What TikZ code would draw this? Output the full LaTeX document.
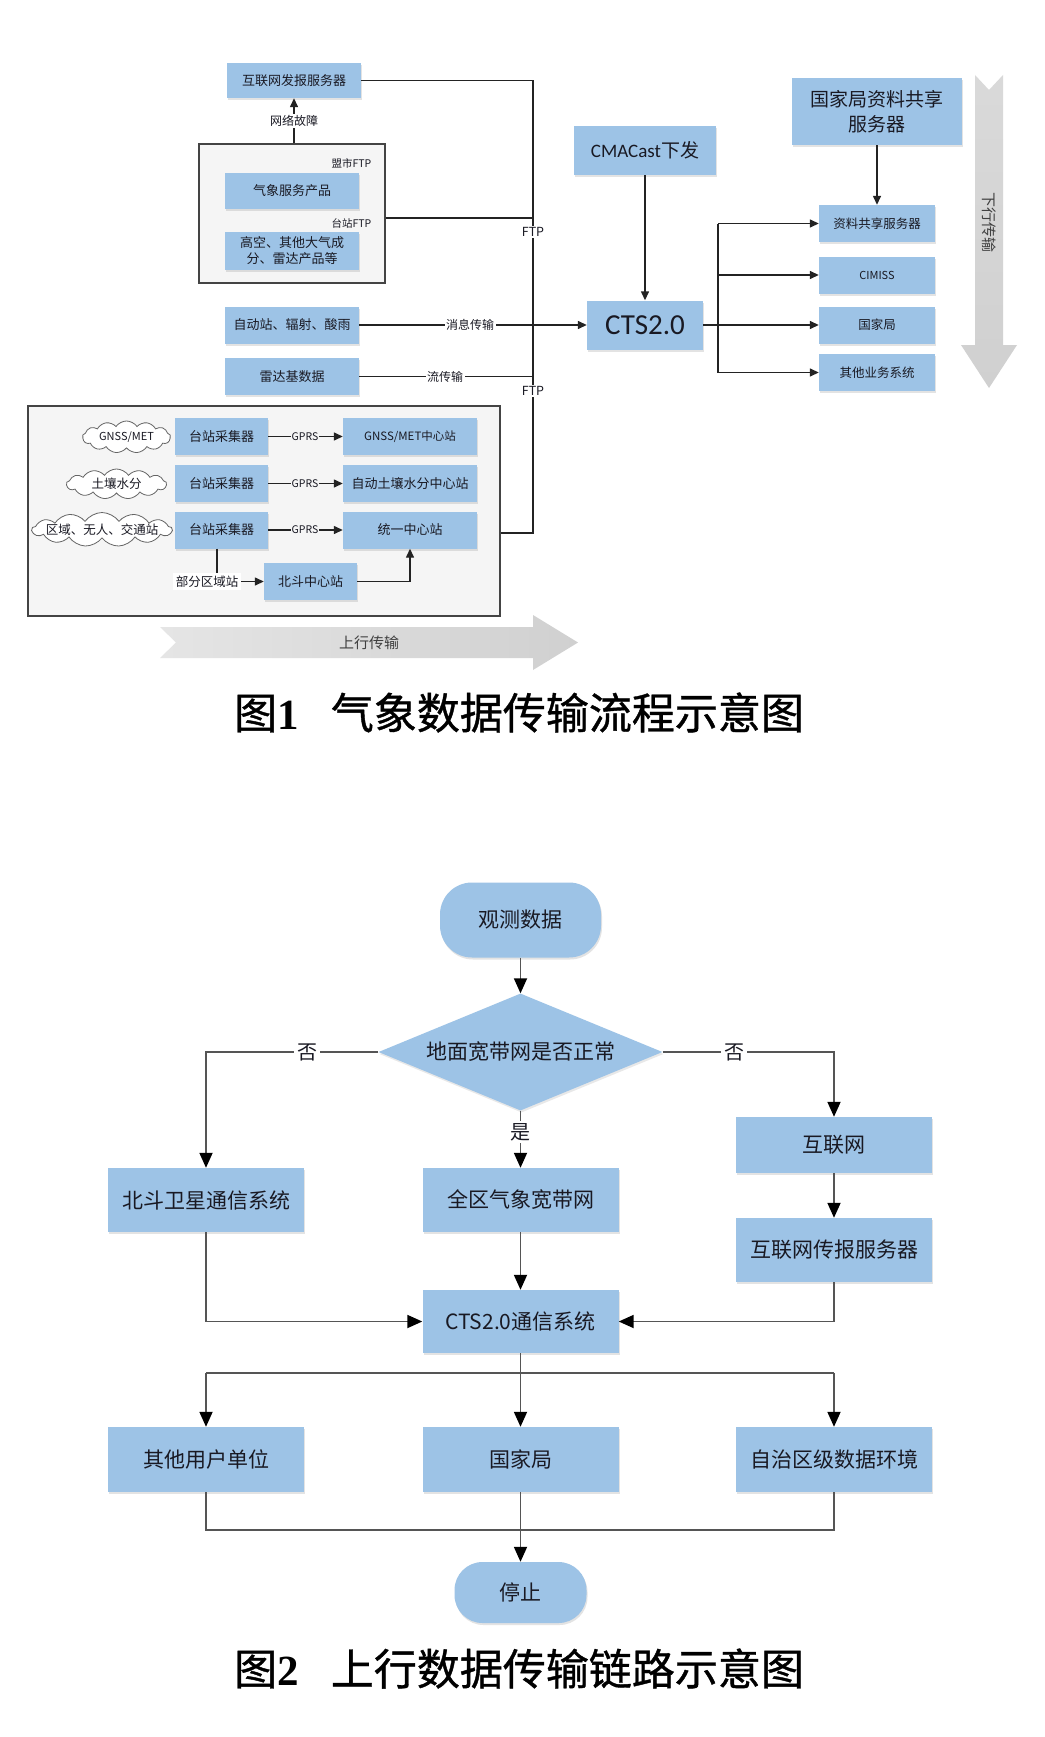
\documentclass[tikz,border=0pt]{standalone}
\usepackage{fontspec}
\setmainfont{Noto Sans CJK SC}
\newfontfamily\latinf{Carlito}
\newfontfamily\capnum{Liberation Serif}
\newfontfamily\capcjk{Noto Sans CJK SC}[FakeBold=0.9]
\usetikzlibrary{arrows.meta,shapes.geometric,shapes.symbols,shadows,calc}
\definecolor{boxblue}{RGB}{157,195,230}
\definecolor{grpfill}{RGB}{245,245,245}
\definecolor{lnc}{RGB}{35,35,35}
\definecolor{lntwo}{RGB}{85,85,85}
\definecolor{txt}{RGB}{25,25,35}
\definecolor{bigarrow}{RGB}{208,208,208}
\newcommand\fsz[2]{\fontsize{#1}{#2}\selectfont}
\begin{document}
\begin{tikzpicture}[x=1pt,y=-1pt,
  box/.style={fill=boxblue, text=txt, inner sep=1pt, align=center, font=\fsz{13}{16},
    drop shadow={opacity=0.22, shadow xshift=1pt, shadow yshift=-2pt}},
  grp/.style={draw=lnc!85, fill=grpfill, line width=1.3pt, inner sep=0},
  lab/.style={text=txt, inner sep=1.5pt, font=\fsz{12}{14}},
  ln/.style={draw=lnc, line width=1.4pt},
  arr/.style={ln, -{Triangle[length=9pt,width=8pt]}},
  ln2/.style={draw=lntwo, line width=1.8pt},
  arr2/.style={ln2, -{Triangle[length=15pt,width=13pt,color=black]}},
  cloudn/.style={cloud, cloud puffs=13, cloud puff arc=110, cloud ignores aspect, draw=lnc!70, fill=white, line width=0.8pt, inner sep=0},
  term/.style={rectangle, rounded corners=32pt, fill=boxblue, text=txt, font=\fsz{21}{24},
    drop shadow={opacity=0.22, shadow xshift=1pt, shadow yshift=-2pt}},
  box2/.style={box, font=\fsz{21}{25}, minimum width=196},
  capt/.style={anchor=base, text=black, font=\capcjk\fsz{43}{48}}
]
\useasboundingbox (0,0) rectangle (1044,1737);
\fill[white] (0,0) rectangle (1044,1737);

% ================= Figure 1 =================
% big gray arrows
\shade[left color=bigarrow!55, right color=bigarrow]
  (160,627) -- (533,627) -- (533,615) -- (578,642.5) -- (533,670) -- (533,658) -- (160,658) -- (176,642.5) -- cycle;
\node[text=black!75, font=\fsz{15}{18}] (sxcs) at (369,643) {上行传输};
\shade[top color=bigarrow!80, bottom color=bigarrow]
  (975,75) -- (989,90) -- (1003,75) -- (1003,345) -- (1017,345) -- (989,388) -- (961,345) -- (975,345) -- cycle;
\node[text=black!75, font=\fsz{15}{18}, rotate=-90] (xxcs) at (989,222) {下行传输};

\node[box, minimum width=134, minimum height=35] (inet) at (294,80.5) {互联网发报服务器};
\node[grp, minimum width=186, minimum height=139] (grpA) at (292,213.5) {};
\node[box, minimum width=134, minimum height=36] (qxfw) at (292,191) {气象服务产品};
\node[box, minimum width=134, minimum height=38] (gkcp) at (292,251) {高空、其他大气成\\分、雷达产品等};
\node[lab, font=\fsz{10.5}{12}, anchor=east] (msftp) at (373,163) {盟市FTP};
\node[lab, font=\fsz{10.5}{12}, anchor=east] (tzftp) at (373,223) {台站FTP};
\node[box, minimum width=134, minimum height=37] (zdz) at (292,325) {自动站、辐射、酸雨};
\node[box, minimum width=134, minimum height=37] (ldj) at (292,376.5) {雷达基数据};
\node[box, minimum width=142, minimum height=49, font=\fsz{19}{22}] (cma) at (645,150.5) {{\latinf CMACast}下发};
\node[box, minimum width=116, minimum height=49, font=\latinf\fsz{29}{32}] (cts) at (645,325) {CTS2.0};
\node[box, minimum width=170, minimum height=67, font=\fsz{19}{25}] (gjzx) at (877,111.5) {国家局资料共享\\服务器};
\node[box, minimum width=116, minimum height=37, font=\fsz{12.5}{15}] (r1) at (877,223.5) {资料共享服务器};
\node[box, minimum width=116, minimum height=37, font=\fsz{11}{13}] (r2) at (877,275) {CIMISS};
\node[box, minimum width=116, minimum height=37, font=\fsz{12.5}{15}] (r3) at (877,325) {国家局};
\node[box, minimum width=116, minimum height=37, font=\fsz{12.5}{15}] (r4) at (877,372.5) {其他业务系统};

\node[grp, minimum width=472, minimum height=210] (grpB) at (264,511) {};
\node[cloudn, minimum width=88, minimum height=32] (c1) at (126.5,437) {};
\node[lab, font=\fsz{11}{13}] (c1t) at (c1.center) {GNSS/MET};
\node[cloudn, minimum width=100, minimum height=30] (c2) at (116.5,484) {};
\node[lab, font=\fsz{12.5}{15}] (c2t) at (c2.center) {土壤水分};
\node[cloudn, minimum width=140, minimum height=34] (c3) at (102,529.5) {};
\node[lab, font=\fsz{12.5}{15}] (c3t) at (c3.center) {区域、无人、交通站};
\node[box, minimum width=93, minimum height=37] (cj1) at (221.5,436.5) {台站采集器};
\node[box, minimum width=93, minimum height=37] (cj2) at (221.5,483.5) {台站采集器};
\node[box, minimum width=93, minimum height=37] (cj3) at (221.5,530) {台站采集器};
\node[box, minimum width=134, minimum height=37, font=\fsz{11.5}{14}] (zx1) at (410,436.5) {GNSS/MET中心站};
\node[box, minimum width=134, minimum height=37] (zx2) at (410,483.5) {自动土壤水分中心站};
\node[box, minimum width=134, minimum height=37] (zx3) at (410,530) {统一中心站};
\node[box, minimum width=93, minimum height=37] (bd) at (310.5,581.5) {北斗中心站};
\node[lab, fill=white, font=\fsz{12.5}{15}, inner sep=3pt] (bfq) at (207,581.5) {部分区域站};

% connectors fig 1
\coordinate (v0) at (533,80.5);
\coordinate (v1) at (533,218);
\coordinate (vb) at (533,533);
\draw[ln] (inet.east) -- (v0) -- (vb) -- (vb -| grpB.east);
\draw[ln] (grpA.east |- v1) -- (v1);
\draw[ln] (ldj.east) -- (ldj.east -| v0);
\draw[arr] (zdz.east) -- (cts.west);
\draw[arr] (grpA.north -| inet.south) -- (inet.south);
\node[lab, fill=white] (wlgz) at (294,121) {网络故障};
\node[lab, fill=white] (xxcsl) at (470,325) {消息传输};
\node[lab, fill=white] (lcs) at (445,376.5) {流传输};
\node[lab, fill=white, font=\fsz{12.5}{14}] (ftp1) at (533,232) {FTP};
\node[lab, fill=white, font=\fsz{12.5}{14}] (ftp2) at (533,391) {FTP};
\draw[arr] (cma.south) -- (cts.north);
\coordinate (tr) at (718,325);
\draw[ln] (cts.east) -- (tr);
\draw[ln] (tr |- r1.west) -- (tr |- r4.west);
\foreach \r in {r1,r2,r3,r4} { \draw[arr] (tr |- \r.west) -- (\r.west); }
\draw[arr] (gjzx.south) -- (r1.north);
\draw[arr] (cj1.east) -- (zx1.west);
\draw[arr] (cj2.east) -- (zx2.west);
\draw[arr] (cj3.east) -- (zx3.west);
\node[lab, fill=grpfill, font=\fsz{10.5}{12}, inner sep=1pt] (g1) at (305,436.5) {GPRS};
\node[lab, fill=grpfill, font=\fsz{10.5}{12}, inner sep=1pt] (g2) at (305,483.5) {GPRS};
\node[lab, fill=grpfill, font=\fsz{10.5}{12}, inner sep=1pt] (g3) at (305,530) {GPRS};
\coordinate (cjb) at (217,548.5);
\draw[ln] (cjb) -- (cjb |- bfq.north);
\draw[arr] (bfq.east) -- (bd.west);
\draw[arr] (bd.east) -| (zx3.south);

\node[capt] (cap1) at (519,729) {图{\capnum\bfseries 1}\hspace{0.75em}气象数据传输流程示意图};

% ================= Figure 2 =================
\node[term, minimum width=161, minimum height=75] (obs) at (520.5,920) {观测数据};
\node[diamond, fill=boxblue, text=txt, font=\fsz{21}{24}, minimum width=284, minimum height=117, inner sep=0, aspect=2.4,
  drop shadow={opacity=0.18, shadow xshift=1pt, shadow yshift=-2pt}] (dia) at (520.5,1052) {地面宽带网是否正常};
\node[box2, minimum height=64] (bd2) at (206,1200) {北斗卫星通信系统};
\node[box2, minimum height=64] (qq) at (520.5,1200) {全区气象宽带网};
\node[box2, minimum height=56] (hl) at (834,1145) {互联网};
\node[box2, minimum height=64] (hlfw) at (834,1250) {互联网传报服务器};
\node[box2, minimum height=63] (cts2) at (520.5,1321.5) {CTS2.0通信系统};
\node[box2, minimum height=65] (qt) at (206,1459.5) {其他用户单位};
\node[box2, minimum height=65] (gj) at (520.5,1459.5) {国家局};
\node[box2, minimum height=65] (zzq) at (834,1459.5) {自治区级数据环境};
\node[term, minimum width=132, minimum height=61, rounded corners=28pt] (tz) at (520.5,1592.5) {停止};

\draw[arr2] (obs.south) -- (dia.north);
\draw[arr2] (dia.west) -| (bd2.north);
\draw[arr2] (dia.east) -| (hl.north);
\draw[arr2] (dia.south) -- (qq.north);
\node[lab, fill=white, font=\fsz{20}{22}, inner sep=3pt] (no1) at (307,1052) {否};
\node[lab, fill=white, font=\fsz{20}{22}, inner sep=3pt] (no2) at (734,1052) {否};
\node[lab, fill=white, font=\fsz{20}{22}, inner sep=2pt] (yes) at (520.5,1132) {是};
\draw[arr2] (hl.south) -- (hlfw.north);
\draw[arr2] (qq.south) -- (cts2.north);
\draw[arr2] (bd2.south) |- (cts2.west);
\draw[arr2] (hlfw.south) |- (cts2.east);
\coordinate (bus) at (520.5,1373);
\draw[ln2] (bus -| qt.north) -- (bus -| zzq.north);
\draw[arr2] (bus -| qt.north) -- (qt.north);
\draw[arr2] (bus -| zzq.north) -- (zzq.north);
\draw[arr2] (cts2.south) -- (gj.north);
\coordinate (bus2) at (520.5,1530);
\draw[ln2] (qt.south) -- (qt.south |- bus2) -- (zzq.south |- bus2) -- (zzq.south);
\draw[arr2] (gj.south) -- (tz.north);

\node[capt] (cap2) at (519,1685) {图{\capnum\bfseries 2}\hspace{0.75em}上行数据传输链路示意图};
\end{tikzpicture}
\end{document}
